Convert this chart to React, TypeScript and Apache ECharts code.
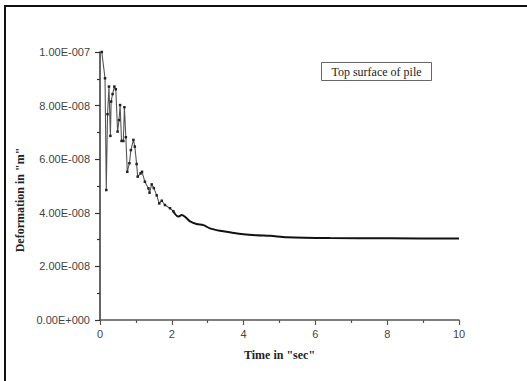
import React, { useEffect, useRef } from "react";
import * as echarts from "echarts";

// time in sec
const timeSec = [
  0.05, 0.14, 0.175, 0.21, 0.25, 0.29, 0.31, 0.35, 0.4, 0.44, 0.49, 0.53, 0.56, 0.6, 0.65, 0.68,
  0.72, 0.76, 0.82, 0.86, 0.93, 0.97, 1.02, 1.05, 1.13, 1.17, 1.25, 1.35, 1.38, 1.44, 1.5, 1.58,
  1.65, 1.72, 1.81, 1.95, 2.04, 2.18, 2.28, 2.42, 2.51, 2.69, 2.88, 3.06, 3.34, 3.62, 3.99, 4.36,
  4.74, 5.2, 6.41, 8.08, 10.0,
];
// deformation in units of 1e-8 m
const deformationE8 = [
  10.0, 9.02, 4.85, 7.68, 8.71, 6.87, 8.15, 8.43, 8.71, 8.61, 7.03, 7.46, 8.02, 6.68, 6.68, 7.94,
  6.82, 5.53, 5.85, 6.34, 6.72, 6.47, 5.82, 5.35, 5.47, 5.53, 5.16, 4.91, 4.75, 5.06, 4.92, 4.65,
  4.35, 4.45, 4.29, 4.17, 4.06, 3.86, 3.92, 3.79, 3.68, 3.58, 3.54, 3.42, 3.33, 3.27, 3.2, 3.16,
  3.14, 3.09, 3.06, 3.05, 3.04,
];
const yTickLabels = ["0.00E+000", "2.00E-008", "4.00E-008", "6.00E-008", "8.00E-008", "1.00E-007"];
const xTickLabels = ["0", "2", "4", "6", "8", "10"];
const legendText = "Top surface of pile";
const xTitle = 'Time in "sec"';
const yTitle = 'Deformation in "m"';
// index where the sampled points become dense (drawn as a solid thick line)
const denseFrom = 36;

export default function App() {
  const ref = useRef<HTMLDivElement>(null);
  useEffect(() => {
    if (!ref.current) return;
    const chart = echarts.init(ref.current, undefined, { renderer: "svg" });
    const axisColor = "#333";
    const pts = timeSec.map((t, i) => [t, deformationE8[i]]);
    chart.setOption({
      animation: false,
      backgroundColor: "#fff",
      grid: { left: 100, right: 68, top: 52, bottom: 61, containLabel: false },
      xAxis: {
        type: "value",
        min: 0,
        max: 10,
        interval: 2,
        axisLine: { show: true, lineStyle: { color: "#555", width: 1.5 } },
        axisTick: { show: true, length: 5, lineStyle: { color: "#555", width: 1.2 } },
        minorTick: { show: true, splitNumber: 2, length: 3, lineStyle: { color: "#555", width: 1.2 } },
        splitLine: { show: false },
        axisLabel: {
          margin: 8,
          color: "#444",
          fontFamily: "Liberation Sans",
          fontSize: 11,
          formatter: (v: number) => xTickLabels[Math.round(v / 2)] ?? "",
        },
      },
      yAxis: {
        type: "value",
        min: 0,
        max: 10,
        interval: 2,
        axisLine: { show: true, lineStyle: { color: axisColor, width: 1.5 } },
        axisTick: { show: true, length: 5, lineStyle: { color: axisColor, width: 1.2 } },
        minorTick: { show: true, splitNumber: 2, length: 3, lineStyle: { color: axisColor, width: 1.2 } },
        splitLine: { show: false },
        axisLabel: {
          margin: 10,
          color: "#444",
          fontFamily: "Liberation Sans",
          fontSize: 11,
          formatter: (v: number) => yTickLabels[Math.round(v / 2)] ?? "",
        },
      },
      series: [
        {
          type: "line",
          data: pts.slice(0, denseFrom + 1),
          showSymbol: true,
          symbol: "rect",
          symbolSize: 2.5,
          itemStyle: { color: "#222" },
          lineStyle: { color: "#555", width: 1.1 },
        },
        {
          type: "line",
          data: pts.slice(denseFrom),
          showSymbol: false,
          smooth: 0.3,
          lineStyle: { color: "#111", width: 2 },
        },
      ],
      graphic: [
        { type: "line", shape: { x1: 4, y1: 6, x2: 527, y2: 6 }, style: { stroke: "#111", lineWidth: 2 } },
        { type: "line", shape: { x1: 5, y1: 5, x2: 5, y2: 381 }, style: { stroke: "#111", lineWidth: 2 } },
        {
          type: "rect",
          shape: { x: 321.5, y: 62.5, width: 110, height: 18 },
          style: { fill: "#fff", stroke: "#666", lineWidth: 1 },
        },
        {
          type: "text",
          x: 376.5,
          y: 72,
          style: {
            text: legendText,
            fontFamily: "Liberation Serif",
            fontSize: 12,
            fill: "#222",
            align: "center",
            verticalAlign: "middle",
          },
        },
        {
          type: "text",
          x: 279.5,
          y: 355,
          style: {
            text: xTitle,
            fontFamily: "Liberation Serif",
            fontWeight: "bold",
            fontSize: 12,
            fill: "#222",
            align: "center",
            verticalAlign: "middle",
          },
        },
        {
          type: "text",
          x: 20,
          y: 200,
          rotation: Math.PI / 2,
          style: {
            text: yTitle,
            fontFamily: "Liberation Serif",
            fontWeight: "bold",
            fontSize: 12,
            fill: "#222",
            align: "center",
            verticalAlign: "middle",
          },
        },
      ],
    });
    return () => chart.dispose();
  }, []);
  return (
    <div
      ref={ref}
      style={{ position: "absolute", left: 0, top: 0, width: 527, height: 381 }}
    />
  );
}
